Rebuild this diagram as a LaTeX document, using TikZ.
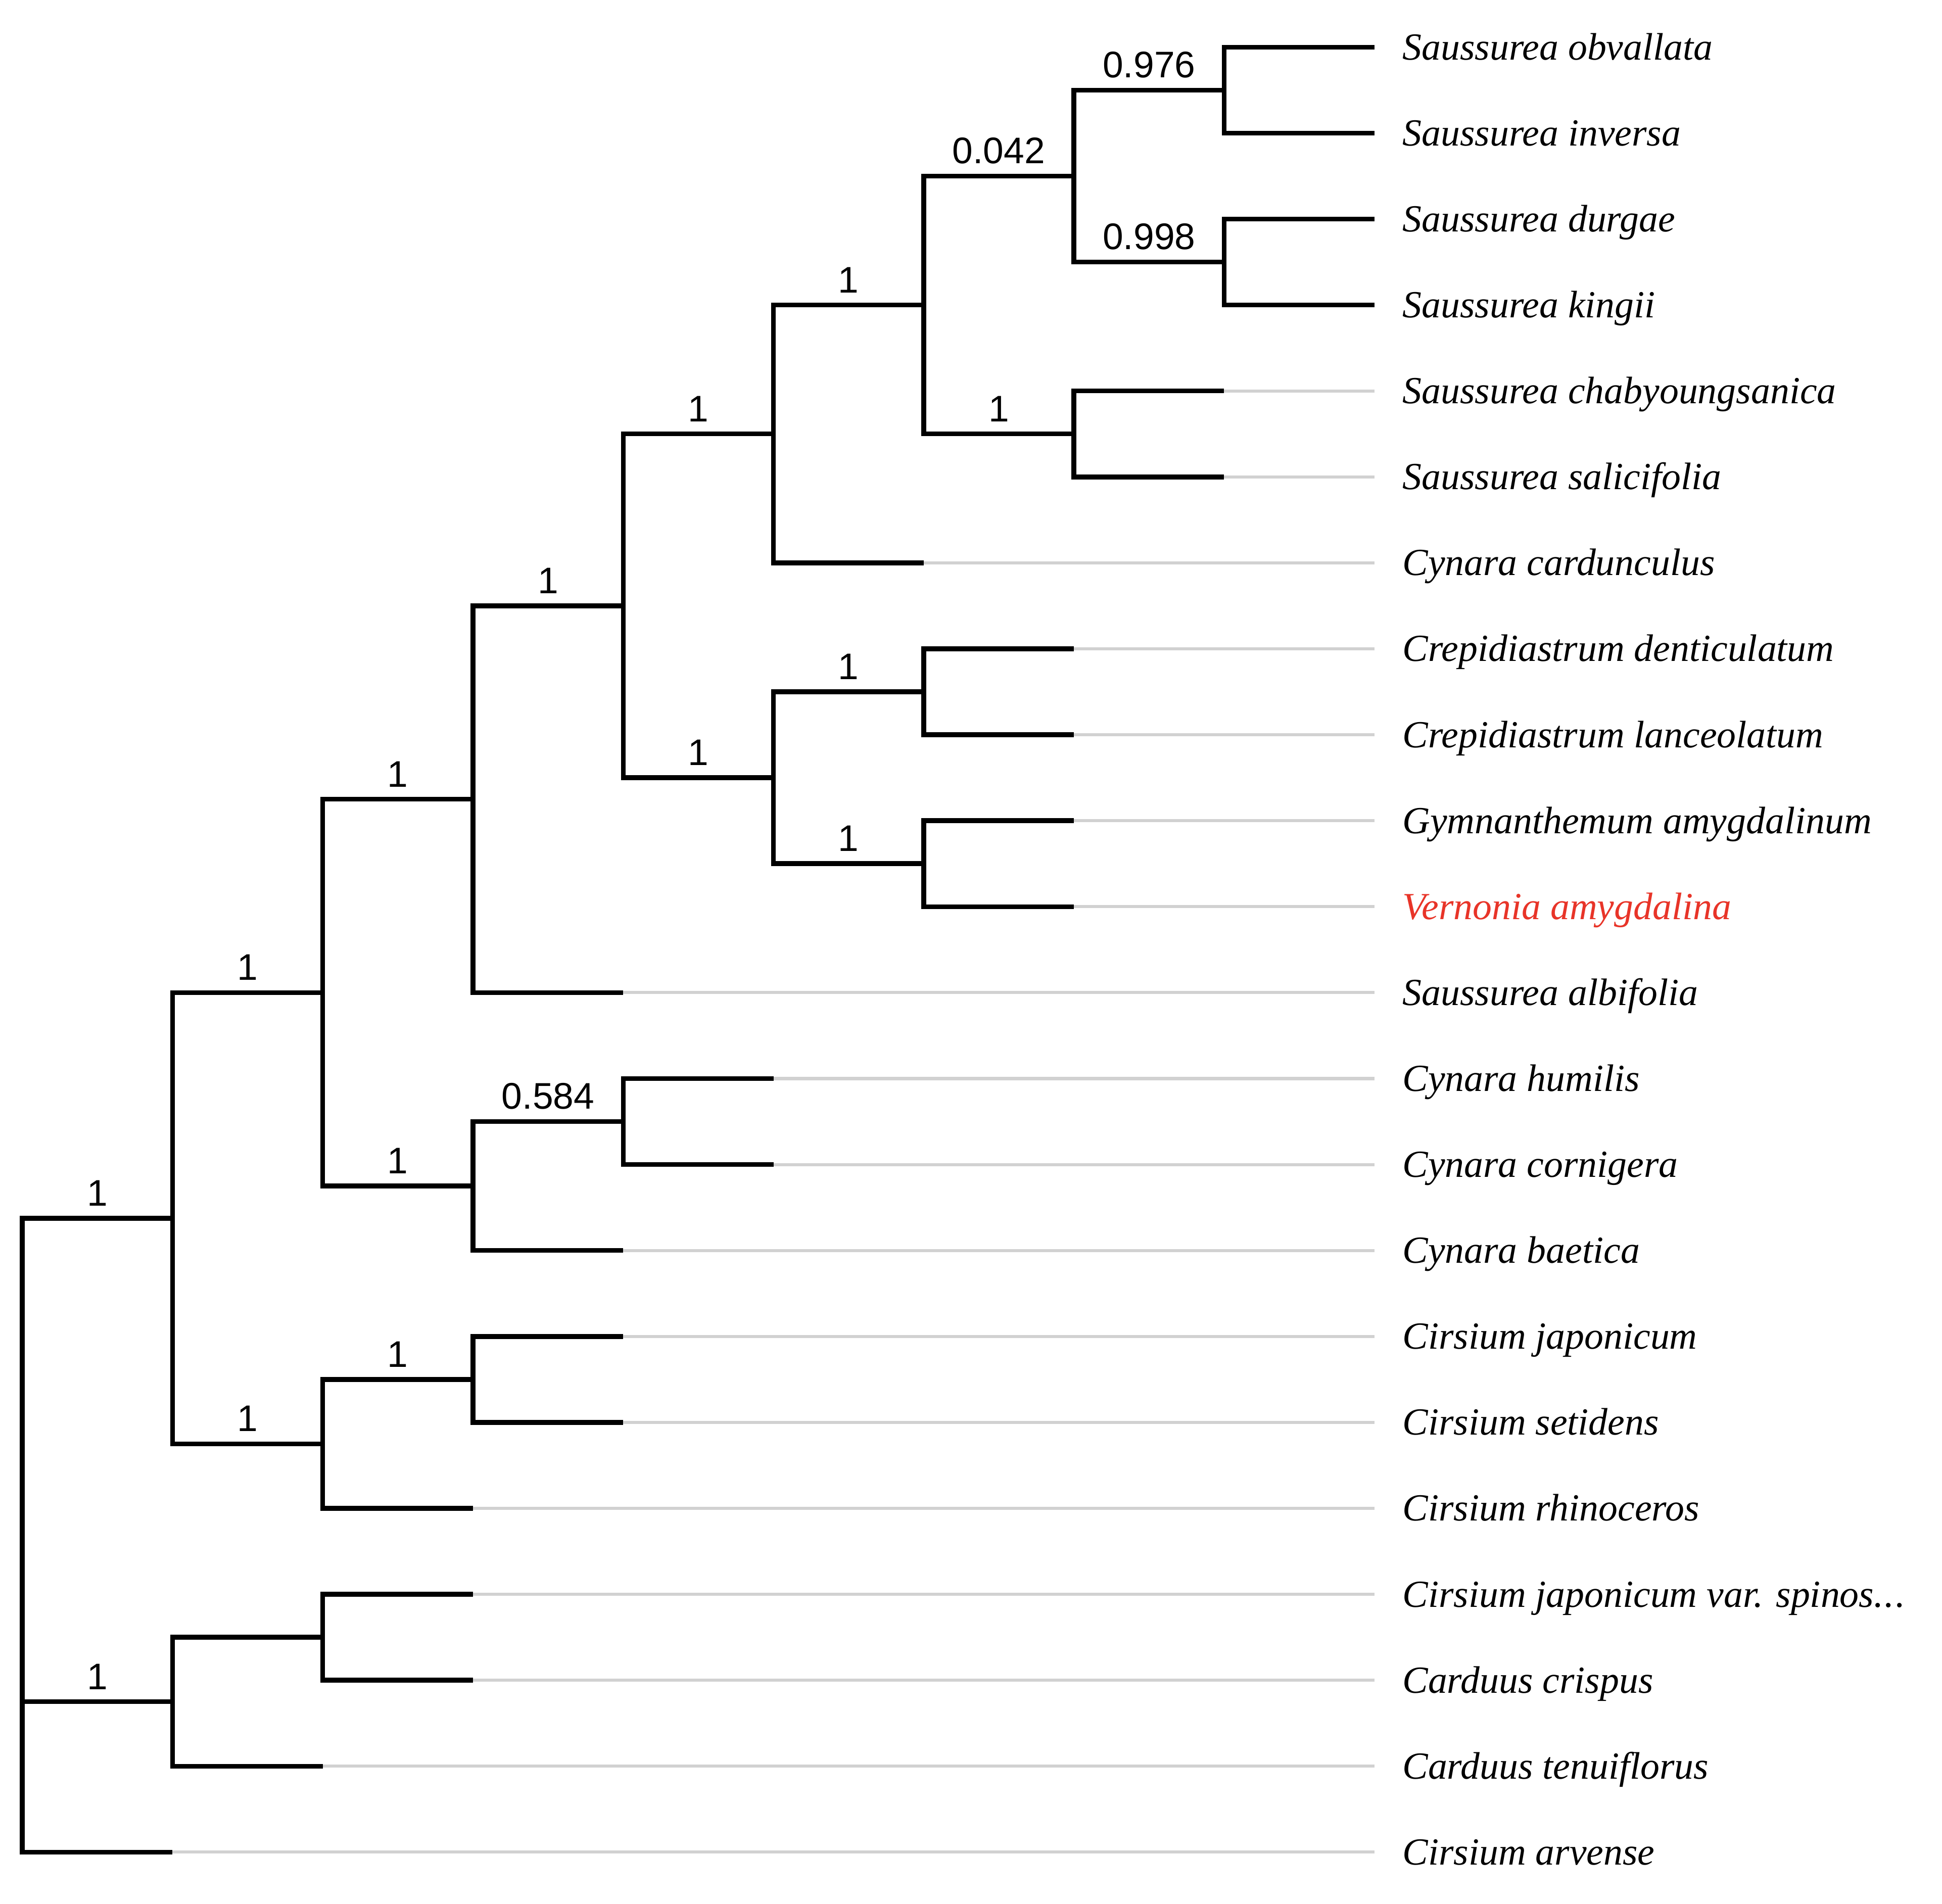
\documentclass[tikz,border=0pt]{standalone}
\usepackage{fontspec}
\setmainfont{Liberation Serif}
\newfontfamily\supfont{Liberation Sans}
\definecolor{hilite}{RGB}{232,52,40}
\tikzset{
  branch/.style={line width=1.1pt,black},
  lead/.style={line width=0.7pt,black!18},
  taxon/.style={anchor=base west,inner sep=0pt,xshift=2.2mm,yshift=-2.9pt,font=\fontsize{8.8}{10}\selectfont\itshape},
  support/.style={pos=0.75,anchor=south,inner sep=0pt,yshift=2.3pt,font=\supfont\fontsize{8.5}{10}\selectfont},
}
\begin{document}
\begin{tikzpicture}[x=1.213cm,y=-0.694cm]
\useasboundingbox (-0.148,0.452) rectangle (12.778,22.6);
\coordinate (root) at (0,18.3);
\coordinate (A) at (1,14.625);
\coordinate (B) at (1,20.25);
\coordinate (C) at (2,12);
\coordinate (D) at (2,17.25);
\coordinate (S) at (2,19.5);
\coordinate (E) at (3,9.75);
\coordinate (F) at (3,14.25);
\coordinate (R) at (3,16.5);
\coordinate (G) at (4,7.5);
\coordinate (Q) at (4,13.5);
\coordinate (H) at (5,5.5);
\coordinate (I) at (5,9.5);
\coordinate (J) at (6,4);
\coordinate (O) at (6,8.5);
\coordinate (P) at (6,10.5);
\coordinate (K) at (7,2.5);
\coordinate (L) at (7,5.5);
\coordinate (M) at (8,1.5);
\coordinate (N) at (8,3.5);
\foreach \r/\k/\name/\c in {
  1/9/Saussurea obvallata/black,
  2/9/Saussurea inversa/black,
  3/9/Saussurea durgae/black,
  4/9/Saussurea kingii/black,
  5/8/Saussurea chabyoungsanica/black,
  6/8/Saussurea salicifolia/black,
  7/6/Cynara cardunculus/black,
  8/7/Crepidiastrum denticulatum/black,
  9/7/Crepidiastrum lanceolatum/black,
  10/7/Gymnanthemum amygdalinum/black,
  11/7/Vernonia amygdalina/hilite,
  12/4/Saussurea albifolia/black,
  13/5/Cynara humilis/black,
  14/5/Cynara cornigera/black,
  15/4/Cynara baetica/black,
  16/4/Cirsium japonicum/black,
  17/4/Cirsium setidens/black,
  18/3/Cirsium rhinoceros/black,
  19/3/{Cirsium japonicum var. spinos.\kern0.3pt.\kern0.3pt.}/black,
  20/3/Carduus crispus/black,
  21/2/Carduus tenuiflorus/black,
  22/1/Cirsium arvense/black} {
  \coordinate (t\r) at (\k,\r);
  \coordinate (e\r) at (9,\r);
  \draw[lead] (t\r) -- (e\r);
  \node[taxon,text=\c] (s\r) at (e\r) {\name};
}
\draw[branch] (root) |- (A) node[support] {1};
\draw[branch] (root) |- (B) node[support] {1};
\draw[branch] (root) |- (t22);
\draw[branch] (A) |- (C) node[support] {1};
\draw[branch] (A) |- (D) node[support] {1};
\draw[branch] (B) |- (S);
\draw[branch] (B) |- (t21);
\draw[branch] (C) |- (E) node[support] {1};
\draw[branch] (C) |- (F) node[support] {1};
\draw[branch] (D) |- (R) node[support] {1};
\draw[branch] (D) |- (t18);
\draw[branch] (S) |- (t19);
\draw[branch] (S) |- (t20);
\draw[branch] (E) |- (G) node[support] {1};
\draw[branch] (E) |- (t12);
\draw[branch] (F) |- (Q) node[support] {0.584};
\draw[branch] (F) |- (t15);
\draw[branch] (R) |- (t16);
\draw[branch] (R) |- (t17);
\draw[branch] (G) |- (H) node[support] {1};
\draw[branch] (G) |- (I) node[support] {1};
\draw[branch] (Q) |- (t13);
\draw[branch] (Q) |- (t14);
\draw[branch] (H) |- (J) node[support] {1};
\draw[branch] (H) |- (t7);
\draw[branch] (I) |- (O) node[support] {1};
\draw[branch] (I) |- (P) node[support] {1};
\draw[branch] (J) |- (K) node[support] {0.042};
\draw[branch] (J) |- (L) node[support] {1};
\draw[branch] (O) |- (t8);
\draw[branch] (O) |- (t9);
\draw[branch] (P) |- (t10);
\draw[branch] (P) |- (t11);
\draw[branch] (K) |- (M) node[support] {0.976};
\draw[branch] (K) |- (N) node[support] {0.998};
\draw[branch] (L) |- (t5);
\draw[branch] (L) |- (t6);
\draw[branch] (M) |- (t1);
\draw[branch] (M) |- (t2);
\draw[branch] (N) |- (t3);
\draw[branch] (N) |- (t4);
\end{tikzpicture}
\end{document}
